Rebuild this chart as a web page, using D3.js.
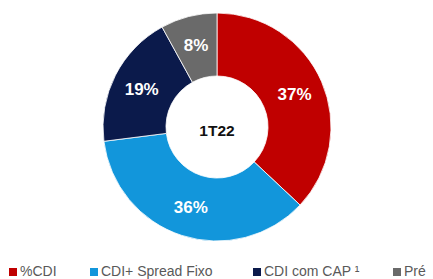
<!DOCTYPE html>
<html><head><meta charset="utf-8">
<script src="https://cdn.jsdelivr.net/npm/d3@7"></script>
<style>body{margin:0;background:#fff;}svg{display:block;}</style>
</head><body>
<svg id="chart" width="433" height="279"></svg>
<script>
const categories = ["%CDI", "CDI+ Spread Fixo", "CDI com CAP ¹", "Pré"];
const values = [37, 36, 19, 8];
const labels = ["37%", "36%", "19%", "8%"];
const colors = ["#C00000", "#1296DB", "#0B1A4B", "#6A6A6A"];
const centerLabel = "1T22";

const svg = d3.select("#chart");
const cx = 217, cy = 127, R = 114, r = 51;
const pie = d3.pie().sort(null).value(d => d)(values);
const arc = d3.arc().innerRadius(r).outerRadius(R);
const g = svg.append("g").attr("transform", `translate(${cx},${cy})`);
g.selectAll("path").data(pie).join("path")
  .attr("d", arc).attr("fill", (d,i) => colors[i])
  .attr("stroke", "#fff").attr("stroke-width", 0.8);
const lab = d3.arc().innerRadius((R + r) / 2 + 2).outerRadius((R + r) / 2 + 2);
g.selectAll("text.v").data(pie).join("text").attr("class","v")
  .attr("transform", d => `translate(${lab.centroid(d)})`)
  .attr("text-anchor","middle").attr("dy","0.36em")
  .attr("fill","#fff").attr("font-family","Liberation Sans, Arial, sans-serif")
  .attr("font-weight","bold").attr("font-size",17)
  .text((d,i) => labels[i]);
g.append("text").attr("text-anchor","middle").attr("dy","0.36em").attr("y",3)
  .attr("font-family","Liberation Sans, Arial, sans-serif").attr("font-weight","bold")
  .attr("font-size",15.5).attr("fill","#111").text(centerLabel);

const legX = [9, 90, 253, 393];
const leg = svg.append("g");
categories.forEach((c,i) => {
  leg.append("rect").attr("x", legX[i]).attr("y", 268).attr("width", 8).attr("height", 8).attr("fill", colors[i]);
  leg.append("text").attr("x", legX[i] + 11).attr("y", 276)
    .attr("font-family","Liberation Sans, Arial, sans-serif").attr("font-size",14)
    .attr("fill","#595959").text(c);
});
</script>
</body></html>
